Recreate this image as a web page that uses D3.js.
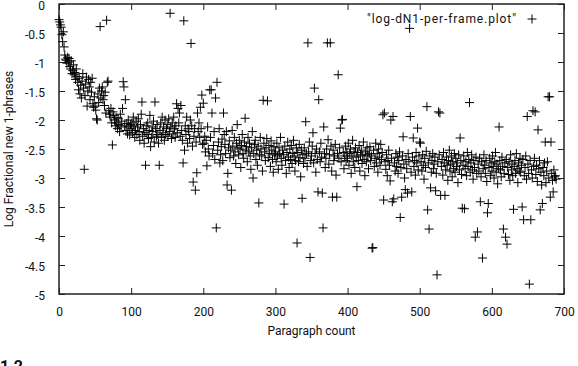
<!DOCTYPE html>
<html>
<head>
<meta charset="utf-8">
<script src="https://cdn.jsdelivr.net/npm/d3@7"></script>
<style>
  body { margin: 0; background: #fff; }
  text { font-family: Roboto, "Liberation Sans", sans-serif; fill: #111; }
</style>
</head>
<body>
<script>
// paragraph index is the x value, one point per paragraph
const logFrac = [
  -0.27,-0.31,-0.36,-0.40,-0.53,-0.65,-0.48,-0.74,-0.88,-0.95,
  -0.97,-1.02,-0.92,-1.00,-0.94,-1.08,-1.12,-0.98,-1.20,-1.15,
  -1.05,-1.22,-1.18,-1.30,-1.12,-1.25,-1.35,-1.48,-1.28,-1.55,
  -1.40,-1.62,-1.33,-1.20,-1.45,-2.85,-1.58,-1.38,-1.26,-1.76,
  -1.50,-1.30,-1.43,-1.65,-1.35,-1.52,-1.28,-1.72,-1.78,-1.60,
  -1.76,-1.83,-1.98,-2.00,-1.55,-1.70,-1.45,-0.39,-1.62,-1.50,
  -1.43,-1.65,-1.58,-1.75,-1.52,-1.88,-0.28,-1.35,-1.33,-1.84,
  -1.90,-1.95,-1.80,-2.05,-2.43,-1.86,-1.92,-2.00,-2.10,-1.96,
  -2.05,-2.15,-1.98,-2.08,-2.20,-1.90,-2.12,-2.02,-1.80,-1.34,
  -1.43,-2.10,-1.65,-2.18,-2.06,-2.24,-2.00,-2.12,-2.26,-2.08,
  -2.15,-2.05,-2.22,-1.95,-2.10,-2.30,-2.18,-2.02,-2.25,-2.12,
  -1.98,-2.20,-2.35,-2.08,-1.90,-1.69,-2.28,-2.15,-2.40,-2.22,
  -2.78,-2.10,-2.25,-2.05,-2.32,-2.18,-1.92,-2.46,-2.30,-2.12,
  -2.20,-2.02,-2.38,-1.69,-2.15,-2.28,-2.08,-2.25,-2.40,-2.78,
  -2.18,-2.05,-2.30,-1.95,-2.22,-2.12,-2.35,-2.00,-2.25,-2.15,
  -2.08,-2.28,-1.98,-2.20,-0.16,-2.12,-2.32,-2.05,-2.24,-1.95,
  -2.15,-2.30,-2.10,-1.72,-2.22,-1.80,-2.05,-1.88,-2.28,-1.75,
  -2.18,-2.35,-2.74,-0.29,-2.52,-2.10,-2.25,-1.95,-2.40,-2.15,
  -2.20,-2.32,-2.00,-0.68,-2.10,-2.45,-3.07,-2.28,-2.15,-3.21,
  -2.38,-2.91,-1.88,-2.20,-2.05,-2.30,-1.78,-2.15,-1.57,-2.42,
  -1.71,-2.40,-2.28,-2.55,-2.35,-2.79,-2.12,-2.50,-2.62,-1.48,
  -2.30,-1.48,-1.88,-2.58,-2.44,-2.20,-2.68,-1.62,-3.86,-1.35,
  -2.52,-2.38,-2.15,-2.74,-2.60,-2.46,-2.33,-2.70,-1.88,-2.25,
  -2.42,-2.58,-2.20,-3.12,-2.92,-2.48,-2.36,-2.65,-2.52,-3.21,
  -2.18,-2.45,-2.62,-2.30,-2.55,-2.75,-2.40,-2.08,-2.48,-2.60,
  -2.35,-2.50,-2.82,-2.44,-2.25,-2.58,-2.66,-2.38,-1.97,-2.52,
  -2.46,-2.72,-2.30,-2.55,-2.40,-2.62,-2.85,-2.48,-2.20,-3.00,
  -2.58,-2.42,-2.35,-2.68,-2.52,-2.78,-2.45,-3.43,-2.60,-2.30,
  -2.50,-2.62,-2.88,-1.66,-2.40,-2.55,-2.70,-2.48,-2.32,-1.67,
  -2.65,-2.44,-2.58,-2.80,-2.36,-2.52,-2.68,-2.90,-2.46,-2.60,
  -2.55,-2.72,-2.40,-2.62,-2.85,-2.48,-2.58,-2.30,-2.66,-2.78,
  -2.52,-2.60,-3.45,-2.45,-2.70,-2.92,-2.56,-2.38,-2.64,-2.82,
  -2.50,-2.68,-2.44,-2.75,-2.58,-2.35,-2.62,-2.88,-2.70,-2.48,
  -4.12,-2.56,-2.72,-2.42,-2.65,-2.98,-2.52,-3.35,-2.60,-2.75,
  -2.48,-2.66,-2.03,-2.58,-2.80,-0.67,-2.55,-2.38,-4.37,-2.70,
  -2.62,-2.45,-2.22,-2.74,-1.45,-2.58,-2.90,-2.50,-2.68,-3.24,
  -1.65,-2.55,-2.72,-2.40,-2.64,-3.26,-3.86,-2.12,-2.58,-2.82,
  -2.66,-2.50,-0.67,-2.34,-2.76,-2.60,-0.67,-2.45,-2.88,-3.33,
  -2.52,-2.70,-2.62,-2.42,-2.95,-3.33,-2.58,-1.22,-2.66,-2.48,
  -2.14,-2.72,-2.00,-1.99,-2.56,-2.84,-2.62,-2.45,-2.70,-2.55,
  -2.66,-2.40,-2.78,-2.58,-2.50,-2.92,-2.62,-2.35,-2.72,-2.55,
  -2.82,-2.48,-2.64,-3.15,-2.56,-2.70,-2.44,-2.88,-2.60,-2.52,
  -2.75,-2.62,-2.38,-2.68,-2.96,-2.55,-2.72,-2.48,-2.60,-2.84,
  -2.58,-2.46,-2.70,-2.62,-4.21,-4.20,-2.52,-2.80,-2.66,-2.40,
  -2.74,-2.58,-2.90,-2.50,-2.64,-2.78,-2.42,-2.68,-2.56,-1.91,
  -3.38,-1.88,-2.72,-2.85,-2.60,-2.96,-2.70,-2.52,-2.78,-3.05,
  -2.00,-2.66,-3.41,-1.94,-3.36,-2.74,-2.88,-2.58,-2.80,-2.64,
  -2.92,-2.70,-2.55,-3.68,-2.82,-3.33,-2.62,-2.29,-2.76,-3.00,
  -3.20,-2.68,-2.84,-3.26,-2.58,-2.72,-0.42,-1.94,-2.90,-3.24,
  -2.64,-2.31,-2.80,-2.70,-2.95,-2.56,-2.74,-2.14,-2.86,-2.62,
  -2.38,-2.40,-2.72,-2.88,-2.60,-2.78,-3.02,-2.66,-2.82,-2.54,
  -1.77,-3.55,-2.74,-3.88,-2.62,-3.17,-2.90,-2.70,-2.58,-2.84,
  -2.76,-2.64,-3.22,-2.92,-4.67,-2.72,-1.86,-2.60,-1.88,-3.30,
  -2.80,-2.68,-2.95,-2.56,-2.74,-3.30,-2.86,-2.64,-2.78,-3.04,
  -2.70,-2.52,-2.88,-2.76,-2.62,-2.98,-2.72,-2.84,-2.58,-2.90,
  -2.66,-2.80,-2.74,-3.08,-2.60,-2.86,-2.31,-2.70,-2.94,-3.52,
  -2.78,-2.62,-3.53,-2.84,-2.72,-2.96,-2.56,-2.80,-2.68,-1.70,
  -2.90,-2.74,-2.60,-2.86,-3.02,-2.70,-2.82,-4.02,-2.64,-2.92,
  -3.93,-2.76,-2.88,-2.66,-3.41,-2.98,-2.72,-4.38,-2.84,-2.60,
  -2.78,-2.92,-2.70,-3.06,-3.60,-3.44,-2.82,-2.66,-2.96,-2.74,
  -2.88,-2.62,-2.80,-3.00,-2.72,-2.56,-2.90,-2.76,-3.10,-2.84,
  -2.12,-2.70,-2.86,-2.98,-2.64,-2.80,-3.88,-2.92,-2.74,-4.02,
  -2.68,-4.14,-2.82,-2.94,-2.72,-3.04,-2.60,-2.86,-2.76,-2.96,
  -3.54,-2.80,-2.70,-2.92,-2.58,-2.84,-3.08,-2.74,-2.88,-2.66,
  -2.90,-2.78,-3.50,-2.68,-3.72,-2.96,-2.82,-2.62,-3.02,-1.94,
  -2.76,-2.92,-4.83,-2.70,-3.72,-2.86,-3.00,-1.84,-2.80,-2.66,
  -1.86,-2.94,-2.78,-3.06,-2.17,-2.84,-2.70,-3.55,-2.90,-3.12,
  -3.44,-2.82,-2.96,-2.74,-2.38,-3.08,-2.88,-2.72,-1.60,-3.00,
  -1.60,-3.33,-2.38,-2.92,-3.04,-3.24,-2.86,-2.98,-2.96,-3.02
];

const xTicks = [0, 100, 200, 300, 400, 500, 600, 700];
const yTicks = [0, -0.5, -1, -1.5, -2, -2.5, -3, -3.5, -4, -4.5, -5];

const W = 578, H = 366;
const plotL = 59, plotR = 564, plotT = 4, plotB = 294;

const svg = d3.select('body').append('svg')
    .attr('width', W)
    .attr('height', H);

const x = d3.scaleLinear().domain([0, 700]).range([plotL, plotR]);
const y = d3.scaleLinear().domain([0, -5]).range([plotT, plotB]);

// ticks point inward, gnuplot style, mirrored on top and right
function styleAxis(g) {
  g.select('.domain').remove();
  g.selectAll('.tick line').attr('stroke', '#222').attr('stroke-width', 1);
  g.selectAll('.tick text').attr('font-size', 12).attr('fill', '#111');
}

svg.append('g')
    .attr('transform', `translate(0,${plotB})`)
    .call(d3.axisBottom(x).tickValues(xTicks).tickSizeInner(-6).tickPadding(13).tickFormat(d3.format('d')))
    .call(styleAxis);
svg.append('g')
    .attr('transform', `translate(0,${plotT})`)
    .call(d3.axisTop(x).tickValues(xTicks).tickSizeInner(-6).tickFormat(''))
    .call(styleAxis);
const yAxisG = svg.append('g')
    .attr('transform', `translate(${plotL},0)`)
    .call(d3.axisLeft(y).tickValues(yTicks).tickSizeInner(-6).tickPadding(14).tickFormat(d => String(d)))
    .call(styleAxis);
yAxisG.selectAll('.tick text').attr('dy', '0.45em');
svg.append('g')
    .attr('transform', `translate(${plotR},0)`)
    .call(d3.axisRight(y).tickValues(yTicks).tickSizeInner(-6).tickFormat(''))
    .call(styleAxis);

svg.append('rect')
    .attr('x', plotL).attr('y', plotT)
    .attr('width', plotR - plotL).attr('height', plotB - plotT)
    .attr('fill', 'none').attr('stroke', '#222').attr('stroke-width', 1.5);

const r = 4.5;
function plus(sel) {
  sel.append('path')
    .attr('d', `M${-r},0H${r}M0,${-r}V${r}`)
    .attr('stroke', '#000')
    .attr('stroke-width', 1)
    .attr('fill', 'none');
}

svg.append('g').selectAll('g.pt')
    .data(logFrac)
    .join('g')
    .attr('class', 'pt')
    .attr('transform', (d, i) => `translate(${x(i)},${y(d)})`)
    .call(plus);

// key
svg.append('text')
    .attr('x', 516).attr('y', 23)
    .attr('text-anchor', 'end')
    .attr('font-size', 12)
    .attr('textLength', 149)
    .attr('lengthAdjust', 'spacing')
    .text('"log-dN1-per-frame.plot"');
svg.append('g')
    .attr('transform', 'translate(532,19)')
    .call(plus);

svg.append('text')
    .attr('x', (plotL + plotR) / 2).attr('y', 335)
    .attr('text-anchor', 'middle')
    .attr('font-size', 12)
    .text('Paragraph count');

svg.append('text')
    .attr('transform', `translate(13,${(plotT + plotB) / 2}) rotate(-90)`)
    .attr('text-anchor', 'middle')
    .attr('font-size', 12)
    .text('Log Fractional new 1-phrases');

svg.append('text')
    .attr('x', 0).attr('y', 372)
    .attr('font-size', 16)
    .attr('font-weight', 'bold')
    .text('1.2');
</script>
</body>
</html>
